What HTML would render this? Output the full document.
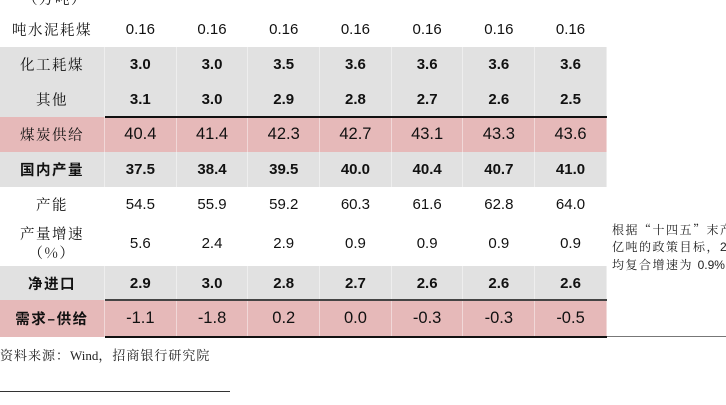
<!DOCTYPE html>
<html><head><meta charset="utf-8">
<style>
html,body{margin:0;padding:0;background:#fff;}
#wrap{position:relative;width:726px;height:405px;overflow:hidden;font-family:"Liberation Sans","Noto Sans CJK SC",sans-serif;color:#111;}
.row{position:absolute;left:0;width:607px;}
.cell{position:absolute;top:0;height:100%;display:flex;align-items:center;justify-content:center;font-size:15px;box-sizing:border-box;}
.lab{font-family:"Noto Serif CJK SC","Noto Sans CJK SC",serif;font-size:14.5px;letter-spacing:1.5px;text-align:center;line-height:19px;}
.gray{background:#e1e1e1;}
.pink{background:#e6b9b9;}
.grid .cell{border-right:1px solid rgba(255,255,255,0.45);}
.bold{font-weight:bold;}
.line{position:absolute;height:2px;background:#111;}
.note{position:absolute;left:612px;font-family:"Noto Serif CJK SC",serif;font-size:12px;letter-spacing:1.5px;white-space:nowrap;line-height:17px;top:221px;color:#222;}
.note span{font-family:"Liberation Sans",sans-serif;letter-spacing:0;}
</style></head>
<body>
<div id="wrap">
<div class="lab" style="position:absolute;left:0;width:110px;top:-11px;">（万吨）</div>
<div class="note">根据“十四五”末产<br>亿吨的政策目标，<span>20</span><br>均复合增速为 <span>0.9%</span></div>
<div class="line" style="left:105px;width:502px;top:116px;"></div>
<div class="line" style="left:105px;width:502px;top:299px;height:1.5px;background:#444;"></div>
<div style="position:absolute;left:105px;width:502px;top:336px;height:2px;background:#111;"></div>
<div style="position:absolute;left:607px;width:119px;top:336px;height:1px;background:#777;"></div>
<div style="position:absolute;left:0;top:345px;font-family:'Noto Serif CJK SC',serif;font-size:13px;letter-spacing:1px;color:#222;">资料来源：<span style="font-family:'Liberation Serif',serif;letter-spacing:0">Wind</span>，招商银行研究院</div>
<div style="position:absolute;left:0;top:391px;width:230px;height:1px;background:#333;"></div>
</div>
<script>
const rowLabels=["吨水泥耗煤","化工耗煤","其他","煤炭供给","国内产量","产能","产量增速<br>（%）","净进口","需求–供给"];
const rowCement=["0.16","0.16","0.16","0.16","0.16","0.16","0.16"];
const rowChem=["3.0","3.0","3.5","3.6","3.6","3.6","3.6"];
const rowOther=["3.1","3.0","2.9","2.8","2.7","2.6","2.5"];
const rowSupply=["40.4","41.4","42.3","42.7","43.1","43.3","43.6"];
const rowOutput=["37.5","38.4","39.5","40.0","40.4","40.7","41.0"];
const rowCapacity=["54.5","55.9","59.2","60.3","61.6","62.8","64.0"];
const rowGrowth=["5.6","2.4","2.9","0.9","0.9","0.9","0.9"];
const rowImport=["2.9","3.0","2.8","2.7","2.6","2.6","2.6"];
const rowGap=["-1.1","-1.8","0.2","0.0","-0.3","-0.3","-0.5"];
const rowValues=[rowCement,rowChem,rowOther,rowSupply,rowOutput,rowCapacity,rowGrowth,rowImport,rowGap];
const names=["cement-coal","chemical-coal","other","coal-supply","domestic-output","capacity","output-growth","net-import","demand-minus-supply"];
const layout=[[12,35,"",0,0,15],[47,35,"gray",1,0,15],[82,35,"gray",1,0,15],[117,35,"pink",0,0,16.5],[152,35,"gray",1,1,15],[187,34,"",0,0,15],[221,44,"",0,0,15],[266,34,"gray",1,1,15],[300,37,"pink",0,1,16.5]];
const wrap=document.getElementById('wrap');
const x0=105,cw=71.7;
rowValues.forEach((vals,i)=>{
  const [top,h,cls,bnum,blab,fs]=layout[i];
  const r=document.createElement('div');
  r.className='row grid '+cls;
  r.style.top=top+'px';r.style.height=h+'px';
  
  
  const l=document.createElement('div');
  l.className='cell lab'+(blab?' bold':'');
  l.style.left='0px';l.style.width=x0+'px';
  if(blab){l.style.fontFamily='"Noto Sans CJK SC",sans-serif';}
  l.innerHTML=rowLabels[i];
  
  
  r.appendChild(l);
  vals.forEach((v,j)=>{
    const c=document.createElement('div');
    c.className='cell'+(bnum?' bold':'');
    c.style.left=(x0+j*cw)+'px';c.style.width=cw+'px';c.style.fontSize=fs+'px';
    c.textContent=v;
    
    
    r.appendChild(c);
  });
  wrap.insertBefore(r,wrap.firstChild);
});
</script>
</body></html>
